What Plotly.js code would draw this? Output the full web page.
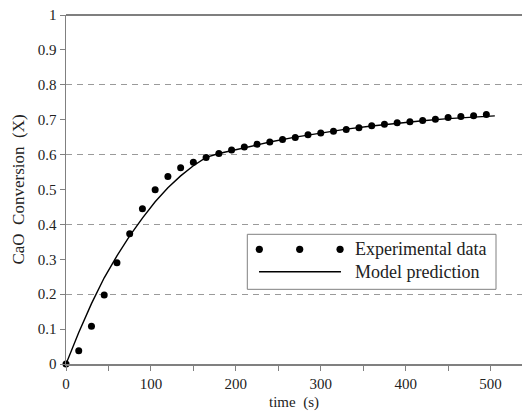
<!DOCTYPE html>
<html>
<head>
<meta charset="utf-8">
<script src="https://cdn.plot.ly/plotly-3.0.1.min.js"></script>
<style>html,body{margin:0;padding:0;background:#fff;}#chart{width:523px;height:414px;}</style>
</head>
<body>
<div id="chart"></div>
<script>
// Experimental data (time in s, CaO conversion X)
var expTime = [0,15,30,45,60,75,90,105,120,135,150,165,180,195,210,225,240,255,270,285,300,315,330,345,360,375,390,405,420,435,450,465,480,495];
var expConv = [0,0.038,0.108,0.198,0.290,0.373,0.445,0.499,0.537,0.562,0.578,0.592,0.603,0.613,0.622,0.630,0.636,0.643,0.649,0.657,0.662,0.667,0.672,0.677,0.683,0.687,0.691,0.694,0.698,0.701,0.706,0.709,0.711,0.715];

// Model prediction
var modelTime = [0,15,30,45,60,75,90,105,120,135,150,165,180,210,240,270,300,330,360,390,420,450,480,505];
var modelConv = [0,0.090,0.173,0.247,0.310,0.367,0.418,0.465,0.505,0.539,0.568,0.592,0.603,0.620,0.636,0.650,0.662,0.673,0.682,0.690,0.697,0.703,0.708,0.711];

var xTickVals = [0,50,100,150,200,250,300,350,400,450,500];
var xTickText = ['0','','100','','200','','300','','400','','500'];

var legendNames = ['Experimental data','Model prediction'];

var serif = "'Liberation Serif'";

var traces = [
  {x: modelTime, y: modelConv, type: 'scatter', mode: 'lines', name: legendNames[1],
   line: {color: '#000', width: 1.4}, showlegend: false, hoverinfo: 'skip'},
  {x: expTime, y: expConv, type: 'scatter', mode: 'markers', name: legendNames[0],
   marker: {color: '#000', size: 7}, showlegend: false, cliponaxis: false},
  {x: [0], y: [0], type: 'scatter', mode: 'markers', xaxis: 'x', yaxis: 'y2',
   marker: {opacity: 0}, showlegend: false, hoverinfo: 'skip'}
];

var dots = [0.424, 0.5125, 0.601].map(function(px){
  return {type: 'circle', xref: 'paper', yref: 'paper', xsizemode: 'pixel', ysizemode: 'pixel',
    xanchor: px, yanchor: 0.3287, x0: -3.6, x1: 3.6, y0: -3.6, y1: 3.6,
    fillcolor: '#000', line: {width: 0}, layer: 'above'};
});

var layout = {
  width: 523, height: 414,
  margin: {l: 66, r: 1, t: 15, b: 50, pad: 0},
  paper_bgcolor: '#fff', plot_bgcolor: '#fff',
  font: {family: serif, size: 15, color: '#222'},
  showlegend: false,
  xaxis: {
    range: [0, 537], tickmode: 'array', tickvals: xTickVals, ticktext: xTickText,
    ticks: 'outside', ticklen: 5, tickcolor: '#808080', tickwidth: 1,
    showline: true, linecolor: '#808080', linewidth: 1.5,
    showgrid: false, zeroline: false,
    tickfont: {family: serif, size: 15, color: '#222'},
    title: {text: 'time\u00a0\u00a0(s)', font: {family: serif, size: 15, color: '#222'}, standoff: 6}
  },
  yaxis: {
    range: [0, 1], dtick: 0.1, tick0: 0,
    ticks: 'outside', ticklen: 5, tickcolor: '#808080', tickwidth: 1,
    showline: true, linecolor: '#808080', linewidth: 1.5,
    showgrid: false, zeroline: false,
    tickfont: {family: serif, size: 15, color: '#222'},
    title: {text: 'CaO\u00a0\u00a0Conversion\u00a0\u00a0(X)', font: {family: serif, size: 17, color: '#222'}, standoff: 9}
  },
  yaxis2: {
    range: [0, 1], dtick: 0.2, tick0: 0, overlaying: 'y', side: 'left',
    showticklabels: false, ticks: '', showline: false, zeroline: false,
    showgrid: true, gridcolor: '#9a9a9a', gridwidth: 1.2, griddash: '6px,5px'
  },
  shapes: [
    {type: 'line', xref: 'paper', yref: 'paper', x0: 0, x1: 1, y0: 1, y1: 1,
     line: {color: '#555', width: 1.5}, layer: 'above'},
    {type: 'rect', xref: 'paper', yref: 'paper', x0: 0.3976, x1: 0.943, y0: 0.214, y1: 0.3716,
     fillcolor: '#fff', line: {color: '#808080', width: 1}, layer: 'above'},
    {type: 'line', xref: 'paper', yref: 'paper', x0: 0.4233, x1: 0.603, y0: 0.2645, y1: 0.2645,
     line: {color: '#000', width: 1.4}, layer: 'above'}
  ].concat(dots),
  annotations: [
    {xref: 'paper', yref: 'paper', x: 0.6294, y: 0.3295, xanchor: 'left', yanchor: 'middle',
     text: legendNames[0], showarrow: false, font: {family: serif, size: 18, color: '#222'}},
    {xref: 'paper', yref: 'paper', x: 0.6294, y: 0.2636, xanchor: 'left', yanchor: 'middle',
     text: legendNames[1], showarrow: false, font: {family: serif, size: 18, color: '#222'}}
  ]
};

Plotly.newPlot('chart', traces, layout, {displayModeBar: false, staticPlot: true});
</script>
</body>
</html>
